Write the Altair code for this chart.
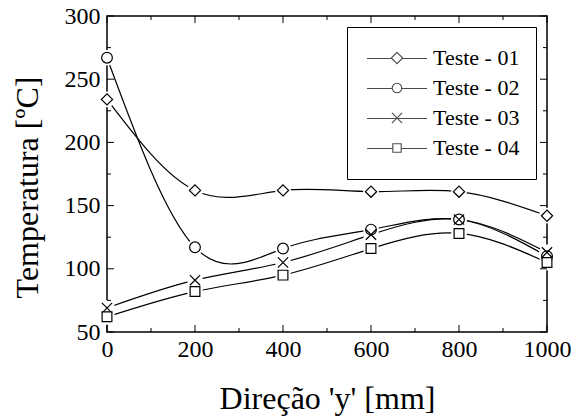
import altair as alt
import pandas as pd

# ---- data ----
x_mm = [0, 200, 400, 600, 800, 1000]
teste_01 = [234, 162, 162, 161, 161, 142]
teste_02 = [267, 117, 116, 131, 139, 110]
teste_03 = [69, 91, 105, 127, 139, 113]
teste_04 = [62, 82, 95, 116, 128, 105]
series_names = ["Teste - 01", "Teste - 02", "Teste - 03", "Teste - 04"]

x_major = [0, 200, 400, 600, 800, 1000]
x_minor = [100, 300, 500, 700, 900]
y_major = [50, 100, 150, 200, 250, 300]
y_minor = [75, 125, 175, 225, 275]

rows = []
for name, vals in zip(series_names, [teste_01, teste_02, teste_03, teste_04]):
    for xv, yv in zip(x_mm, vals):
        rows.append({"serie": name, "x": xv, "y": yv})
df = pd.DataFrame(rows)

FONT = "Liberation Serif"
W, H = 440, 316

xscale = alt.Scale(domain=[0, 1000], nice=False, zero=False)
yscale = alt.Scale(domain=[50, 300], nice=False, zero=False)

x_axis = alt.Axis(values=x_major, format="d", title="Direção 'y' [mm]", grid=False,
                  domain=False, ticks=False, labelFlush=False, labelFont=FONT,
                  labelFontSize=24, labelColor="black", labelPadding=5, titleFont=FONT,
                  titleFontSize=32, titleFontWeight="normal", titleColor="black",
                  titleX=W / 2, titleY=76, titleAlign="center", titleBaseline="alphabetic")
y_axis = alt.Axis(values=y_major, format="d", title="Temperatura [ºC]", grid=False,
                  domain=False, ticks=False, labelFlush=False, labelFont=FONT,
                  labelFontSize=24, labelColor="black", labelPadding=7, titleFont=FONT,
                  titleFontSize=32, titleFontWeight="normal", titleColor="black",
                  titleAngle=270, titleX=-70, titleY=171, titleAlign="center",
                  titleBaseline="alphabetic")

X = alt.X("x:Q", scale=xscale, axis=x_axis)
Y = alt.Y("y:Q", scale=yscale, axis=y_axis)

base = alt.Chart(df)

lines = base.mark_line(interpolate="natural", color="black", strokeWidth=1.2).encode(
    x=X, y=Y, detail="serie:N")

halo = base.mark_point(shape="circle", filled=True, color="white", size=250, opacity=1).encode(
    x="x:Q", y="y:Q")

xpath = "M-1,-1L1,1M-1,1L1,-1"
markers = base.mark_point(filled=True, fill="white", stroke="black", strokeWidth=1.2,
                          opacity=1).encode(
    x="x:Q", y="y:Q",
    shape=alt.Shape("serie:N", scale=alt.Scale(domain=series_names,
                                                range=["diamond", "circle", xpath, "square"]),
                    legend=None),
    size=alt.Size("serie:N", scale=alt.Scale(domain=series_names, range=[125, 95, 115, 70]),
                  legend=None),
)

# legend symbols: line segment with the marker in the middle (unit square -1..1)
leg_paths = [
    "M-1,0.0167H-0.19M0.19,0.0167H1M0,-0.19L0.19,0L0,0.19L-0.19,0Z",
    "M-1,0.0167H-0.16M0.16,0.0167H1M-0.16,0A0.16,0.16 0 1,0 0.16,0A0.16,0.16 0 1,0 -0.16,0Z",
    "M-1,0.0167H1M-0.17,-0.17L0.17,0.17M-0.17,0.17L0.17,-0.17",
    "M-1,0.0167H-0.14M0.14,0.0167H1M-0.14,-0.14H0.14V0.14H-0.14Z",
]
legend_layer = base.transform_filter("false").mark_point(stroke="black", strokeWidth=1).encode(
    shape=alt.Shape("serie:N", scale=alt.Scale(domain=series_names, range=leg_paths),
                    legend=alt.Legend(orient="none", legendX=240, legendY=11, title=None,
                                      strokeColor="black", fillColor="white", padding=16,
                                      symbolSize=3600, symbolStrokeColor="black",
                                      symbolStrokeWidth=1.1, symbolFillColor="white",
                                      symbolOffset=3, labelOffset=5, labelFont=FONT,
                                      labelFontSize=22, labelColor="black",
                                      clipHeight=30, rowPadding=0, labelBaseline="middle")),
)

# inward ticks on all four sides
def vticks(vals, y0, y1):
    return alt.Chart(pd.DataFrame({"t": vals})).mark_rule(color="black", strokeWidth=1).encode(
        x=alt.X("t:Q", scale=xscale), y=alt.value(y0), y2=alt.value(y1))

def hticks(vals, x0, x1):
    return alt.Chart(pd.DataFrame({"t": vals})).mark_rule(color="black", strokeWidth=1).encode(
        y=alt.Y("t:Q", scale=yscale), x=alt.value(x0), x2=alt.value(x1))

ticks = [
    vticks(x_major, H, H - 7), vticks(x_minor, H, H - 4),
    vticks(x_major, 0, 7), vticks(x_minor, 0, 4),
    hticks(y_major, 0, 7), hticks(y_minor, 0, 4),
    hticks(y_major, W, W - 7), hticks(y_minor, W, W - 4),
]

chart = alt.layer(lines, halo, *ticks, markers, legend_layer).resolve_scale(
    shape="independent", size="independent"
).properties(
    width=W, height=H,
    autosize=alt.AutoSizeParams(type="none"),
    padding={"left": 107, "top": 16, "right": 36, "bottom": 85},
    background="white",
).configure(font=FONT).configure_view(stroke="black", strokeWidth=1.5)

chart.save("out.html", embed_options={"renderer": "svg", "actions": False})
